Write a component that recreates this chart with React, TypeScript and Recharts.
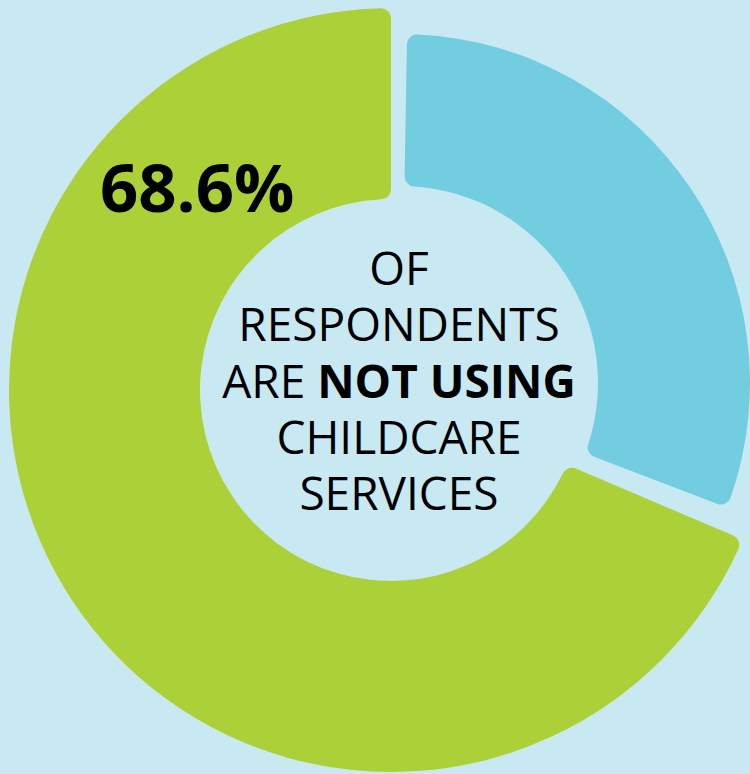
import React from "react";
import { PieChart, Pie, Cell } from "recharts";

// share of respondents (percent)
const categories = ["Not using childcare", "Using childcare"];
const values = [68.6, 31.4];
const colors = ["#acd037", "#72cde0"];
const headline = "68.6%";
const centerLines = ["OF", "RESPONDENTS", "ARE |NOT USING", "CHILDCARE", "SERVICES"];

const BG = "#c8e9f2";
const FONT = "'Open Sans', 'Noto Sans', sans-serif";

const data = categories.map((name, i) => ({ name, value: values[i] }));

export default function App() {
  return (
    <div
      style={{
        position: "fixed",
        top: 0,
        left: 0,
        width: 750,
        height: 774,
        background: BG,
        overflow: "hidden",
      }}
    >
      <PieChart width={750} height={774} margin={{ top: 0, right: 0, bottom: 0, left: 0 }}>
        {/* big green ring */}
        <Pie
          data={data}
          dataKey="value"
          nameKey="name"
          cx={391}
          cy={390}
          innerRadius={191}
          outerRadius={382}
          startAngle={90}
          endAngle={450}
          paddingAngle={0}
          cornerRadius={10}
          stroke="none"
          isAnimationActive={false}
        >
          {data.map((d, i) => (
            <Cell key={d.name} fill={i === 0 ? colors[0] : "none"} />
          ))}
        </Pie>
        {/* smaller, pulled-out blue segment */}
        <Pie
          data={data}
          dataKey="value"
          nameKey="name"
          cx={401}
          cy={383}
          innerRadius={197}
          outerRadius={349}
          startAngle={99}
          endAngle={449}
          paddingAngle={0}
          cornerRadius={10}
          stroke="none"
          isAnimationActive={false}
        >
          {data.map((d, i) => (
            <Cell key={d.name} fill={i === 1 ? colors[1] : "none"} />
          ))}
        </Pie>
      </PieChart>
      <svg
        width={750}
        height={774}
        style={{ position: "absolute", top: 0, left: 0, pointerEvents: "none" }}
      >
        <text x={100} y={212} fontFamily={FONT} fontWeight={700} fontSize={67} fill="#000">
          {headline}
        </text>
        {centerLines.map((line, i) => {
          const [plain, bold] = line.split("|");
          return (
            <text
              key={line}
              x={399}
              y={285 + i * 56.3}
              textAnchor="middle"
              fontFamily={FONT}
              fontSize={46}
              fill="#000"
            >
              {plain}
              {bold !== undefined && <tspan fontWeight={700}>{bold}</tspan>}
            </text>
          );
        })}
      </svg>
    </div>
  );
}
